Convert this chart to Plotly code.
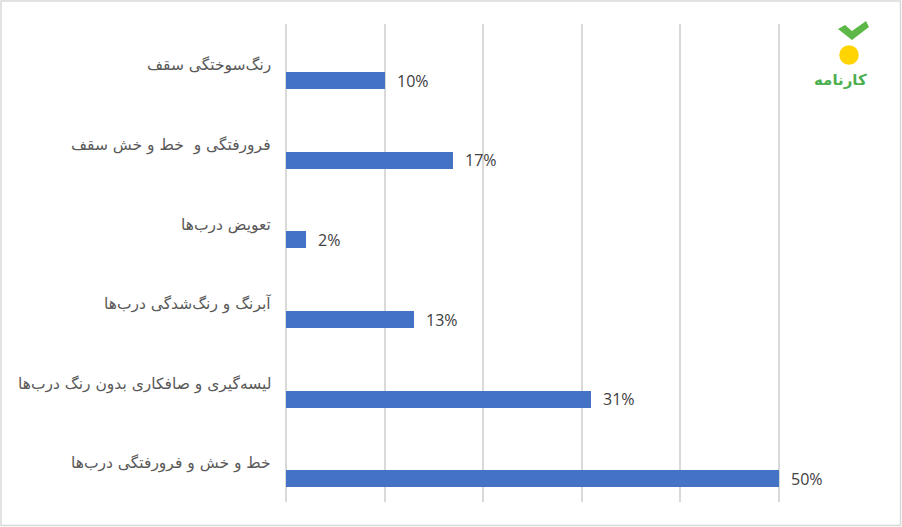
import plotly.graph_objects as go

categories = [
    "رنگ‌سوختگی سقف",
    "فرورفتگی و  خط و خش سقف",
    "تعویض درب‌ها",
    "آبرنگ و رنگ‌شدگی درب‌ها",
    "لیسه‌گیری و صافکاری بدون رنگ درب‌ها",
    "خط و خش و فرورفتگی درب‌ها",
]
values = [10, 17, 2, 13, 31, 50]
value_labels = ["10%", "17%", "2%", "13%", "31%", "50%"]
x_ticks = [0, 10, 20, 30, 40, 50, 60]

W, H = 902, 527
L, R, T, B = 286, 25, 24, 25
n = len(categories)

bar_pos = [n - i - 0.71 for i in range(n)]
lab_pos = [n - i - 0.52 for i in range(n)]

def px(xp):
    return (xp - L) / (W - L - R)

def py(yp):
    return (H - B - yp) / (H - T - B)

fig = go.Figure()
fig.add_trace(go.Bar(
    x=values, y=bar_pos, orientation="h", width=0.213,
    marker=dict(color="#4472C4", line=dict(width=0)),
    hoverinfo="skip",
))

annotations = []
for c, yl in zip(categories, lab_pos):
    annotations.append(dict(
        x=0, y=yl, xref="x", yref="y", text=c, showarrow=False,
        xanchor="right", yanchor="middle", xshift=-13,
        font=dict(family="DejaVu Sans", size=15.5, color="#595959"),
    ))
for v, t, yb in zip(values, value_labels, bar_pos):
    annotations.append(dict(
        x=v, y=yb, xref="x", yref="y", text=t, showarrow=False,
        xanchor="left", yanchor="middle", xshift=10,
        font=dict(family="Open Sans", size=16, color="#404040"),
    ))
# logo text
annotations.append(dict(
    x=px(840), y=py(80), xref="paper", yref="paper", text="<b>کارنامه</b>",
    showarrow=False, xanchor="center", yanchor="middle",
    font=dict(family="DejaVu Sans", size=15, color="#4CAF50"),
))

shapes = [
    # outer border
    dict(type="rect", xref="paper", yref="paper",
         x0=px(1), x1=px(W - 1.5), y0=py(H - 1.5), y1=py(1),
         line=dict(color="#D9D9D9", width=1.5), fillcolor="rgba(0,0,0,0)", layer="below"),
    # logo check mark
    dict(type="path", xref="paper", yref="paper",
         path=(f"M {px(838)},{py(29)} L {px(845)},{py(25)} L {px(852)},{py(31)} "
               f"L {px(866)},{py(21)} L {px(869)},{py(27)} L {px(852)},{py(40)} Z"),
         fillcolor="#5DB848", line=dict(width=0)),
    # logo flower
    dict(type="circle", xref="paper", yref="paper",
         x0=px(840), x1=px(858), y0=py(64), y1=py(46),
         fillcolor="#FFD400", line=dict(color="#FFD400", width=1.5)),
]

fig.update_layout(
    width=W, height=H,
    margin=dict(l=L, r=R, t=T, b=B, pad=0),
    paper_bgcolor="white", plot_bgcolor="white",
    showlegend=False,
    bargap=0,
    xaxis=dict(range=[0, 60], tickvals=x_ticks, showticklabels=False,
               showgrid=True, gridcolor="#D9D9D9", gridwidth=1.5,
               zeroline=True, zerolinecolor="#D9D9D9", zerolinewidth=1.5,
               showline=False, fixedrange=True),
    yaxis=dict(range=[0, n], showticklabels=False, showgrid=False,
               zeroline=False, showline=False, fixedrange=True),
    annotations=annotations,
    shapes=shapes,
)

fig.write_html("out.html", config={"displayModeBar": False},
               post_script="document.body.style.margin='0px';document.body.style.overflow='hidden';")
